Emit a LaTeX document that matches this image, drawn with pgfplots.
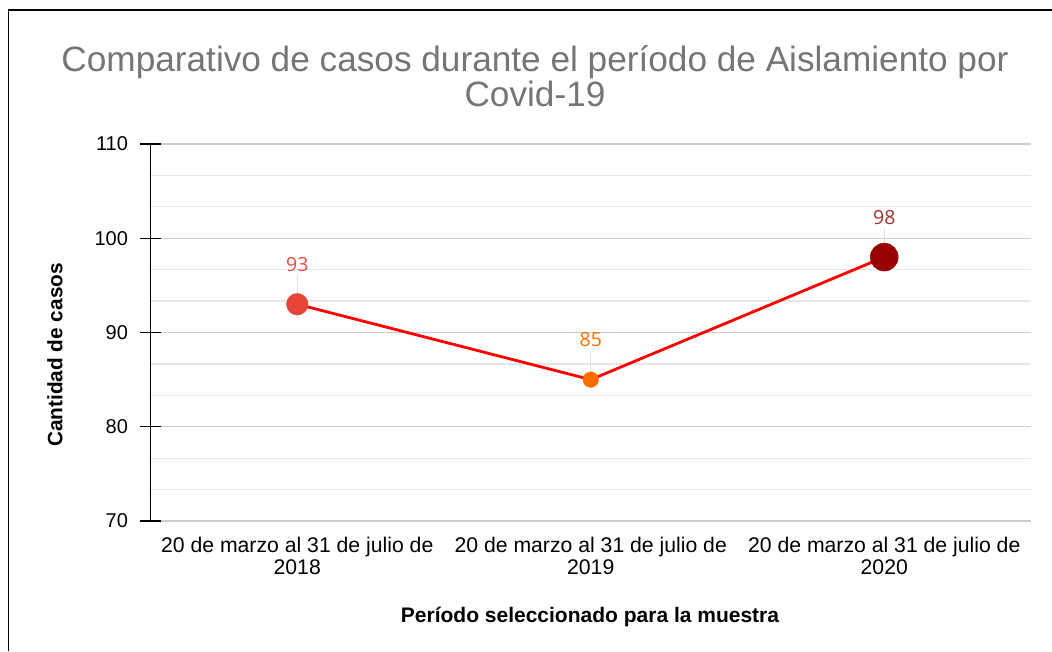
\documentclass[border=0pt]{standalone}
\usepackage{fontspec}
\setmainfont{Liberation Sans}
\newfontfamily\labfont{Open Sans}
\usepackage{pgfplots}
\pgfplotsset{compat=1.18}
\definecolor{titlegray}{HTML}{757575}
\definecolor{pA}{HTML}{E8443A}
\definecolor{pB}{HTML}{FF6D00}
\definecolor{pC}{HTML}{990000}
\definecolor{labA}{HTML}{EA4C42}
\definecolor{labB}{HTML}{FF6D00}
\definecolor{labC}{HTML}{A2302C}
\definecolor{linered}{HTML}{FF0000}
\definecolor{majgrid}{HTML}{CCCCCC}
\definecolor{mingrid}{HTML}{E6E6E6}
\definecolor{leader}{HTML}{E0E0E0}
\begin{document}
\begin{tikzpicture}[x=1pt,y=1pt]
\useasboundingbox (0,0) rectangle (1052,651);
\draw[line width=1.8pt] (8.5,0) -- (8.5,641) -- (1052,641);
\node[anchor=base, text=titlegray, font=\fontsize{35.2}{36}\selectfont] at (535,579) {Comparativo de casos durante el período de Aislamiento por};
\node[anchor=base, text=titlegray, font=\fontsize{35.2}{36}\selectfont] at (535,544) {Covid-19};
\begin{axis}[
  at={(150.5pt,130pt)}, anchor=south west,
  scale only axis, width=880.5pt, height=377pt,
  xmin=-0.5, xmax=2.5, ymin=70, ymax=110,
  xtick={0,1,2},
  xticklabels={{20 de marzo al 31 de julio de\\2018},{20 de marzo al 31 de julio de\\2019},{20 de marzo al 31 de julio de\\2020}},
  ytick={70,80,90,100,110}, minor y tick num=2,
  ymajorgrids, yminorgrids,
  major grid style={majgrid, line width=1.3pt},
  minor grid style={mingrid, line width=1.3pt},
  axis x line*=bottom, axis y line*=left,
  x axis line style={draw=none},
  y axis line style={black, line width=1.4pt, -},
  tick align=center,
  major tick length=20pt, minor tick length=0pt,
  xtick style={draw=none},
  ytick style={black, line width=1.4pt},
  /pgf/number format/assume math mode=true,
  tick label style={font=\fontsize{20}{22}\selectfont, text=black},
  xticklabel style={align=center, font=\fontsize{21.2}{22}\selectfont, yshift=-3pt},
  yticklabel style={anchor=east, xshift=-9pt},
  clip=false,
]
\addplot[linered, line width=2.8pt, no markers] coordinates {(0,93) (1,85) (2,98)};
\addplot[only marks, mark=none, error bars/.cd, y dir=plus, y explicit, error mark=none,
  error bar style={draw=leader, line width=1pt}]
  coordinates {(0,93) +- (0,3.08) (1,85) +- (0,3.08) (2,98) +- (0,3.08)};
\addplot[only marks, mark=*, mark size=10.8pt, color=pA,
  nodes near coords, every node near coord/.append style={anchor=base, yshift=33pt, text=labA, font=\labfont\fontsize{19.5}{22}\selectfont}]
  coordinates {(0,93)};
\addplot[only marks, mark=*, mark size=7.8pt, color=pB,
  nodes near coords, every node near coord/.append style={anchor=base, yshift=33pt, text=labB, font=\labfont\fontsize{19.5}{22}\selectfont}]
  coordinates {(1,85)};
\addplot[only marks, mark=*, mark size=14pt, color=pC,
  nodes near coords, every node near coord/.append style={anchor=base, yshift=33pt, text=labC, font=\labfont\fontsize{19.5}{22}\selectfont}]
  coordinates {(2,98)};
\end{axis}
\node[anchor=base, font=\bfseries\fontsize{21}{22}\selectfont] at (590,29) {Período seleccionado para la muestra};
\node[rotate=90, font=\bfseries\fontsize{20.8}{22}\selectfont] at (55,296) {Cantidad de casos};
\end{tikzpicture}
\end{document}
